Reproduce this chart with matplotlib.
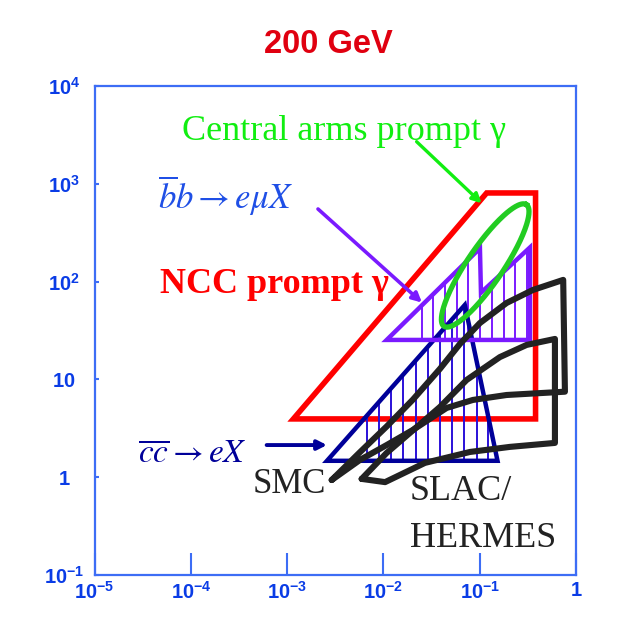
import numpy as np
import matplotlib
matplotlib.use("Agg")
import matplotlib.pyplot as plt
from matplotlib.patches import Polygon

# ---------------- data ----------------
# NCC prompt gamma region (red)
ncc_x = [1.16e-3, 0.118, 0.38, 0.38]
ncc_y = [3.94, 805, 805, 3.94]

# b-bbar -> e mu X region (purple, saw-tooth)
bb_x = [0.0108, 0.1005, 0.103, 0.332, 0.332]
bb_y = [25.3, 219, 77, 223, 25.3]
bb_hatch_x = [0.0249, 0.033, 0.0436, 0.0577, 0.0763, 0.101, 0.1336, 0.1767, 0.2338, 0.309]

# c-cbar -> e X region (navy triangle)
cc_x = [2.59e-3, 0.070, 0.153]
cc_y = [1.47, 57.7, 1.47]
cc_hatch_x = [6.7e-3, 8.97e-3, 0.0120, 0.0161, 0.0216, 0.0289, 0.0387, 0.0518,
              0.0693, 0.0928, 0.1225]

# SMC region (black)
smc_x = [2.9e-3, 5.7e-3, 0.0108, 0.0202, 0.0386, 0.0622, 0.1005, 0.19, 0.356,
         0.736, 0.767, 0.19, 0.0849, 0.0453, 0.0202, 0.0108, 5.7e-3, 2.9e-3]
smc_y = [0.935, 1.80, 3.30, 6.2, 12.8, 23.0, 37.7, 60.4, 82.0,
         104, 7.48, 6.92, 6.16, 5.10, 3.04, 2.13, 1.50, 0.935]

# SLAC / HERMES region (black)
slac_x = [5.94e-3, 0.0108, 0.0188, 0.0386, 0.0731, 0.162, 0.307, 0.604,
          0.604, 0.206, 0.0791, 0.027, 0.0104, 5.94e-3]
slac_y = [0.96, 1.77, 2.83, 5.22, 9.86, 16.9, 22.5, 25.9,
          2.24, 2.04, 1.81, 1.40, 0.89, 0.96]

# Central arms prompt gamma (green ellipse): centre, semi-axes (decades), angle
ell_center = (0.114, 146.0)
ell_semi_axes = (0.755, 0.185)
ell_angle_deg = 55.4

# arrows (tail -> head), data coordinates
arrow_green = ((0.0221, 2694), (0.1047, 632))
arrow_purple = ((2.09e-3, 552), (0.0251, 61))
arrow_navy = ((6.12e-4, 2.13), (2.59e-3, 2.13))

xticks = [1e-5, 1e-4, 1e-3, 1e-2, 1e-1, 1]
xticklabels = [r'$\mathbf{10^{-5}}$', r'$\mathbf{10^{-4}}$', r'$\mathbf{10^{-3}}$',
               r'$\mathbf{10^{-2}}$', r'$\mathbf{10^{-1}}$', r'$\mathbf{1}$']
yticks = [1e-1, 1, 10, 1e2, 1e3, 1e4]
yticklabels = [r'$\mathbf{10^{-1}}$', r'$\mathbf{1}$', r'$\mathbf{10}$',
               r'$\mathbf{10^{2}}$', r'$\mathbf{10^{3}}$', r'$\mathbf{10^{4}}$']

# ---------------- styling ----------------
plt.rcParams['mathtext.fontset'] = 'custom'
plt.rcParams['mathtext.rm'] = 'Liberation Sans:bold'
plt.rcParams['mathtext.bf'] = 'Liberation Sans:bold'
plt.rcParams['mathtext.it'] = 'Liberation Sans:bold'

AX_BLUE = '#3d6df5'
LBL_BLUE = '#0a3ce6'
RED = '#ff0000'
PURPLE = '#7a1aff'
NAVY = '#000099'
HATCH_BLUE = '#2a10d8'
GREEN = '#22cc22'
BLACK = '#222222'

fig = plt.figure(figsize=(6.24, 6.39), dpi=100)
fig.patch.set_facecolor('white')
ax = fig.add_axes([0.1516, 0.1002, 0.7715, 0.7653])
ax.set_xscale('log')
ax.set_yscale('log')
ax.set_xlim(1e-5, 1)
ax.set_ylim(1e-1, 1e4)

for s in ax.spines.values():
    s.set_color(AX_BLUE)
    s.set_linewidth(1.6)

ax.set_xticks(xticks)
ax.set_xticklabels(xticklabels)
ax.set_yticks(yticks)
ax.set_yticklabels(yticklabels)
ax.minorticks_off()
ax.tick_params(axis='x', direction='in', length=16, width=1.5, color=AX_BLUE,
               labelsize=14.5, labelcolor=LBL_BLUE, pad=4, top=False)
ax.tick_params(axis='y', direction='in', length=3, width=1.5, color=AX_BLUE,
               labelsize=14.5, labelcolor=LBL_BLUE, pad=22, right=False)
for lab in ax.get_yticklabels():
    lab.set_horizontalalignment('center')

# red NCC region
ax.add_patch(Polygon(list(zip(ncc_x, ncc_y)), closed=True, fill=False,
                     edgecolor=RED, linewidth=4.0, joinstyle='miter', zorder=3))

# navy cc region with hatching
cc_patch = Polygon(list(zip(cc_x, cc_y)), closed=True, fill=False,
                   edgecolor=NAVY, linewidth=3.2, joinstyle='miter', zorder=4)
ax.add_patch(cc_patch)
vl = ax.vlines(cc_hatch_x, 0.5, 500, colors=HATCH_BLUE, linewidth=1.4, zorder=3.5)
vl.set_clip_path(cc_patch)

# purple bb region with hatching
bb_patch = Polygon(list(zip(bb_x, bb_y)), closed=True, fill=False,
                   edgecolor=PURPLE, linewidth=3.2, joinstyle='miter', zorder=4)
ax.add_patch(bb_patch)
vl2 = ax.vlines(bb_hatch_x, 5, 2000, colors=PURPLE, linewidth=1.4, zorder=3.5)
vl2.set_clip_path(bb_patch)

# green ellipse (drawn in log space)
t = np.linspace(0, 2 * np.pi, 300)
th = np.deg2rad(ell_angle_deg)
a, b = ell_semi_axes
lx = np.log10(ell_center[0]) + a * np.cos(t) * np.cos(th) - b * np.sin(t) * np.sin(th)
ly = np.log10(ell_center[1]) + a * np.cos(t) * np.sin(th) + b * np.sin(t) * np.cos(th)
ax.plot(10 ** lx, 10 ** ly, color=GREEN, linewidth=3.8, zorder=6)

# black SMC and SLAC/HERMES regions
ax.plot(smc_x, smc_y, color=BLACK, linewidth=4.4, solid_joinstyle='round',
        solid_capstyle='round', zorder=7)
ax.plot(slac_x, slac_y, color=BLACK, linewidth=4.4, solid_joinstyle='round',
        solid_capstyle='round', zorder=7)

# arrows
for (tail, head), col, lw in [(arrow_green, '#11ee11', 2.4),
                              (arrow_purple, PURPLE, 2.6),
                              (arrow_navy, NAVY, 2.8)]:
    ax.annotate('', xy=head, xytext=tail,
                arrowprops=dict(arrowstyle='-|>,head_length=0.55,head_width=0.28',
                                color=col, lw=lw, shrinkA=0, shrinkB=0), zorder=8)

# texts
serif = ['Liberation Serif', 'DejaVu Serif']
ax.text(0.1816, 0.8896, 'Central arms prompt γ', transform=ax.transAxes,
        fontsize=26, color='#11ee11', family=serif, ha='left', va='baseline')
ax.text(0.136, 0.5767, 'NCC prompt γ', transform=ax.transAxes, fontsize=26,
        color=RED, family=serif, fontweight='bold', ha='left', va='baseline')
ax.text(0.132, 0.748, r'$\overline{b}b\rightarrow e\mu X$', transform=ax.transAxes,
        fontsize=25, color='#1f4fe6', math_fontfamily='stix', ha='left', va='baseline')
ax.text(0.090, 0.229, r'$\overline{cc}\rightarrow eX$', transform=ax.transAxes,
        fontsize=24, color=NAVY, math_fontfamily='stix', ha='left', va='baseline')
ax.text(0.329, 0.168, 'SMC', transform=ax.transAxes, fontsize=25,
        color=BLACK, family=serif, ha='left', va='baseline', zorder=9)
ax.text(0.655, 0.153, 'SLAC/', transform=ax.transAxes, fontsize=26,
        color=BLACK, family=serif, ha='left', va='baseline')
ax.text(0.655, 0.0579, 'HERMES', transform=ax.transAxes, fontsize=26,
        color=BLACK, family=serif, ha='left', va='baseline')

fig.text(0.527, 0.9296, '200 GeV', fontsize=23.5, fontweight='bold', color='#e00010',
         family=['Liberation Sans', 'DejaVu Sans'], ha='center', va='center')

fig.savefig('out.png', dpi=100)
